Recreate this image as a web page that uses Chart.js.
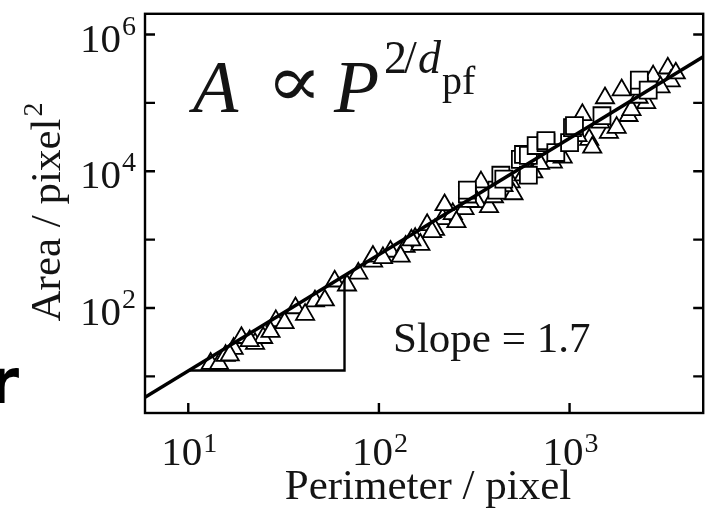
<!DOCTYPE html>
<html>
<head>
<meta charset="UTF-8" />
<title>Area vs perimeter</title>
<script src="https://cdn.jsdelivr.net/npm/chart.js"></script>
<style>
    html, body { margin: 0; padding: 0; background: #fff; }
    #wrap { width: 717px; height: 513px; }
</style>
</head>
<body>
<div id="wrap"><canvas id="chart" width="717" height="513"></canvas></div>
<script>
// open triangles (perimeter, area)
const triP = [13.1, 14.5, 15.7, 17.3, 19.0, 22.4, 24.7, 28.8, 32.0, 36.5, 46.2, 58.6, 78.0, 93.2, 93, 115,
    155, 179, 216, 244, 281, 221, 327, 343, 491, 573, 622, 645, 1167, 1268, 1534, 1608, 1876, 2038, 2112,
    2744, 3275, 3394, 138, 197, 255, 130, 165, 378, 401, 508, 817, 920, 1315, 1766, 2523, 3607,
    16.5, 21.0, 27.0, 41.0, 52.0, 68.0, 105, 148, 190, 300, 450, 700, 1100, 1450, 2300, 3000];
const triA = [15.4, 15.4, 20.1, 25.5, 36.7, 30.1, 36.7, 64.8, 60.7, 100, 126, 246, 321, 480, 567, 670,
    1033, 1648, 2015, 2381, 2814, 3217, 3557, 6930, 6930, 8750, 10700, 9680, 67000, 29100, 118000, 36700,
    154000, 64900, 79300, 246000, 321000, 208000, 792, 1397, 1824, 567, 847, 3006, 4200, 4645, 13500,
    16000, 22300, 43400, 100000, 272000,
    20.5, 33.0, 45.0, 80.0, 130, 215, 540, 980, 1300, 3600, 6100, 12900, 33000, 52000, 120000, 170000];
// open squares
const sqP = [291, 291, 416, 436, 452, 552, 573, 608, 668, 752, 752, 847, 1000, 1036, 1061, 1479, 2323, 2323, 2585, 608];
const sqA = [4645, 5310, 5310, 8750, 7650, 14900, 17600, 17100, 23800, 26300, 28100, 18800, 26300, 43400,
    46500, 64900, 176000, 215000, 154000, 8750];
// fitted line, slope 1.7, and the slope triangle
const fitP = [5.9, 5000];
const fitA = [4.9, 470000];
const guideP = [10, 66, 66];
const guideA = [12.2, 12.2, 300];
// axis ticks
const xTickExp = [1, 2, 3];
const yTickExp = [1, 2, 3, 4, 5, 6];
const yLabelExp = [2, 4, 6];

const pts = (xs, ys) => xs.map((x, i) => ({ x: x, y: ys[i] }));
const SERIF = '"Liberation Serif", "Times New Roman", serif';
const INK = '#141414';

const decor = {
    id: 'decor',
    afterDraw(chart) {
        const ctx = chart.ctx, a = chart.chartArea;
        const xs = chart.scales.x, ys = chart.scales.y;
        ctx.save();
        ctx.strokeStyle = '#000';
        ctx.fillStyle = INK;
        ctx.lineWidth = 2.4;
        ctx.strokeRect(a.left, a.top, a.right - a.left, a.bottom - a.top);
        // inward ticks
        ctx.beginPath();
        yTickExp.forEach(e => {
            const y = ys.getPixelForValue(Math.pow(10, e));
            ctx.moveTo(a.left, y); ctx.lineTo(a.left + 10, y);
            ctx.moveTo(a.right, y); ctx.lineTo(a.right - 10, y);
        });
        xTickExp.forEach(e => {
            const x = xs.getPixelForValue(Math.pow(10, e));
            ctx.moveTo(x, a.bottom); ctx.lineTo(x, a.bottom - 10);
        });
        ctx.stroke();
        // tick labels
        ctx.textBaseline = 'alphabetic';
        yLabelExp.forEach(e => {
            const y = ys.getPixelForValue(Math.pow(10, e));
            ctx.font = '41px ' + SERIF;
            ctx.textAlign = 'right';
            ctx.fillText('10', 121, y + 17);
            ctx.font = '28px ' + SERIF;
            ctx.textAlign = 'left';
            ctx.fillText(String(e), 122, y);
        });
        xTickExp.forEach(e => {
            const x = xs.getPixelForValue(Math.pow(10, e));
            ctx.font = '41px ' + SERIF;
            ctx.textAlign = 'right';
            ctx.fillText('10', x + 14, 465);
            ctx.font = '28px ' + SERIF;
            ctx.textAlign = 'left';
            ctx.fillText(String(e), x + 15, 452);
        });
        // axis titles
        ctx.font = '43px ' + SERIF;
        ctx.textAlign = 'center';
        ctx.fillText('Perimeter / pixel', 428, 499);
        ctx.save();
        ctx.translate(60, 214);
        ctx.rotate(-Math.PI / 2);
        ctx.textAlign = 'left';
        const t = 'Area / pixel';
        const w = ctx.measureText(t).width;
        ctx.fillText(t, -w / 2 - 6, 0);
        ctx.font = '28px ' + SERIF;
        ctx.fillText('2', w / 2 - 4, -18);
        ctx.restore();
        // formula A ∝ P^(2/d_pf)
        ctx.textAlign = 'left';
        ctx.font = 'italic 74px ' + SERIF;
        ctx.fillText('A', 193, 112);
        // thin proportional sign, scaled from a smaller glyph
        ctx.save();
        ctx.translate(266, 106);
        ctx.scale(1.55, 1.35);
        ctx.font = '54px "DejaVu Serif", serif';
        ctx.fillText('\u221D', 0, 0);
        ctx.restore();
        ctx.font = 'italic 74px ' + SERIF;
        ctx.fillText('P', 334, 112);
        ctx.font = '46px ' + SERIF;
        ctx.fillText('2', 384, 73);
        ctx.fillText('/', 404, 73);
        ctx.font = 'italic 46px ' + SERIF;
        ctx.fillText('d', 418, 73);
        ctx.font = '40px ' + SERIF;
        ctx.fillText('pf', 442, 94);
        // slope note
        ctx.font = '43px ' + SERIF;
        ctx.fillText('Slope = 1.7', 393, 352);
        // cut-off letter at the left edge
        ctx.font = 'bold 62px "DejaVu Sans", sans-serif';
        ctx.textAlign = 'right';
        ctx.fillStyle = '#000';
        ctx.fillText('r', 19, 403);
        ctx.restore();
    }
};

new Chart(document.getElementById('chart'), {
    type: 'scatter',
    data: {
        datasets: [
            {
                data: pts(fitP, fitA), showLine: true, borderColor: '#000', borderWidth: 3.6,
                pointRadius: 0, fill: false
            },
            {
                data: pts(guideP, guideA), showLine: true, borderColor: '#000', borderWidth: 2.4,
                pointRadius: 0, fill: false
            },
            {
                data: pts(sqP, sqA), pointStyle: 'rect', pointRadius: 12, borderWidth: 1.8,
                borderColor: '#000', backgroundColor: '#fff'
            },
            {
                data: pts(triP, triA), pointStyle: 'triangle', pointRadius: 10.5, borderWidth: 1.8,
                borderColor: '#000', backgroundColor: '#fff'
            }
        ]
    },
    options: {
        responsive: false,
        animation: false,
        devicePixelRatio: 1,
        layout: { padding: { top: 10, right: 4, left: 0, bottom: 0 } },
        plugins: { legend: { display: false }, tooltip: { enabled: false } },
        scales: {
            x: {
                type: 'logarithmic', min: 5.93, max: 5023,
                ticks: { display: false }, grid: { display: false }, border: { display: false },
                afterFit(s) { s.height = 100; }
            },
            y: {
                type: 'logarithmic', min: 2.91, max: 2.01e6,
                ticks: { display: false }, grid: { display: false }, border: { display: false },
                afterFit(s) { s.width = 145; }
            }
        }
    },
    plugins: [decor]
});
</script>
</body>
</html>
